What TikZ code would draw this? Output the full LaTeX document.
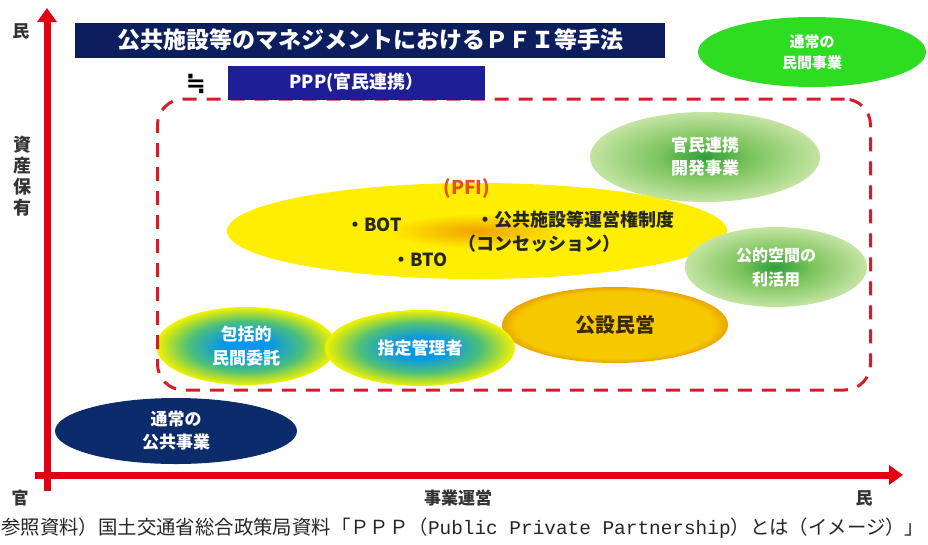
\documentclass[tikz,border=0pt]{standalone}
\usepackage{fontspec}
\setmainfont{Noto Sans CJK JP}
\newfontfamily\monof{Liberation Mono}
\newfontfamily\symf{DejaVu Sans}
\usetikzlibrary{arrows.meta,shapes.geometric}
\definecolor{axisred}{HTML}{E00012}
\definecolor{dashred}{HTML}{D21E2C}
\definecolor{titlenavy}{HTML}{0C1E5E}
\definecolor{pppblue}{HTML}{1E1E96}
\definecolor{labgray}{HTML}{333333}
\definecolor{topgreen}{HTML}{2EDC22}
\definecolor{lgc}{HTML}{2F9E3A}
\definecolor{lgm}{HTML}{7CC45E}
\definecolor{lge}{HTML}{C4E4A2}
\definecolor{pfiorange}{HTML}{F0A000}
\definecolor{pfiyellow}{HTML}{FFEE00}
\definecolor{pfitext}{HTML}{E4501A}
\definecolor{kocenter}{HTML}{F6C800}
\definecolor{koedge}{HTML}{E8A400}
\definecolor{kotext}{HTML}{3A2A00}
\definecolor{bluec}{HTML}{0A98E4}
\definecolor{bluem}{HTML}{4CBF7A}
\definecolor{bluee}{HTML}{F2F200}
\definecolor{navyell}{HTML}{0C2B6B}
\pgfdeclareradialshading{pfishade}{\pgfpoint{0bp}{0bp}}{color(0bp)=(pfiorange); color(9bp)=(pfiyellow); color(25bp)=(pfiyellow); color(50bp)=(pfiyellow)}
\pgfdeclareradialshading{lgshade}{\pgfpoint{0bp}{0bp}}{color(0bp)=(lgc); color(10bp)=(lgm); color(25bp)=(lge); color(50bp)=(lge)}
\pgfdeclareradialshading{koshade}{\pgfpoint{0bp}{0bp}}{color(0bp)=(kocenter); color(22bp)=(kocenter); color(25bp)=(koedge); color(50bp)=(koedge)}
\pgfdeclareradialshading{blueshade}{\pgfpoint{0bp}{0bp}}{color(0bp)=(bluec); color(7bp)=(bluec); color(16bp)=(bluem); color(25bp)=(bluee); color(50bp)=(bluee)}
\tikzset{
  axisline/.style={draw=axisred, line width=7pt, -{Triangle[length=14pt,width=19pt]}},
  axislab/.style={text=labgray, font=\fontsize{17}{20}\selectfont\bfseries, inner sep=0pt},
  ellbox/.style={ellipse, inner sep=0pt, align=center},
  wtext/.style={text=white, font=\fontsize{16}{23}\selectfont\bfseries, align=center, inner sep=0pt},
  frame/.style={draw=dashred, line width=3pt, dash pattern=on 14pt off 10pt, rounded corners=26pt},
  bartitle/.style={fill=titlenavy, text=white, inner sep=0pt, font=\fontsize{23}{25}\selectfont\bfseries},
  pppbox/.style={fill=pppblue, text=white, inner sep=0pt, font=\fontsize{18}{20}\selectfont\bfseries},
  pfitxt/.style={text=black!85, font=\fontsize{18}{20}\selectfont\bfseries, inner sep=0pt, anchor=west}
}
\begin{document}
\begin{tikzpicture}[x=1pt,y=-1pt]
\useasboundingbox (0,0) rectangle (928,544);
\fill[white] (0,0) rectangle (928,544);
% ellipses
\node[ellbox, fill=topgreen, minimum width=228pt, minimum height=70pt] (minkan) at (812,52) {};
\node[wtext, font=\fontsize{15}{21}\selectfont\bfseries] (minkant) at (minkan.center) {通常の\\民間事業};
\node[ellbox, shade, shading=lgshade, minimum width=230pt, minimum height=90pt] (kaihatsu) at (705,157) {};
\node[wtext, font=\fontsize{17}{23}\selectfont\bfseries] (kaihatsut) at (kaihatsu.center) {官民連携\\開発事業};
\node[ellbox, shade, shading=pfishade, minimum width=500pt, minimum height=96pt] (pfi) at (477,231) {};
\node[ellbox, shade, shading=koshade, minimum width=226pt, minimum height=76pt] (kosetsu) at (615,325) {};
\node[text=kotext, font=\fontsize{20}{22}\selectfont\bfseries, inner sep=0pt] (kosetsut) at (kosetsu.center) {公設民営};
\node[ellbox, shade, shading=lgshade, minimum width=182pt, minimum height=80pt] (koteki) at (776,267) {};
\node[wtext, font=\fontsize{16}{24}\selectfont\bfseries] (kotekit) at (koteki.center) {公的空間の\\利活用};
\node[ellbox, shade, shading=blueshade, minimum width=180pt, minimum height=78pt] (hokatsu) at (246,346) {};
\node[wtext, font=\fontsize{17}{24}\selectfont\bfseries] (hokatsut) at (hokatsu.center) {包括的\\民間委託};
\node[ellbox, shade, shading=blueshade, minimum width=190pt, minimum height=76pt] (shitei) at (420,348) {};
\node[wtext, font=\fontsize{17}{20}\selectfont\bfseries] (shiteit) at (shitei.center) {指定管理者};
\node[ellbox, fill=navyell, minimum width=242pt, minimum height=66pt] (kokyo) at (176,431) {};
\node[wtext, font=\fontsize{17}{23}\selectfont\bfseries] (kokyot) at (kokyo.center) {通常の\\公共事業};
% PFI texts
\node[text=pfitext, font=\fontsize{19}{20}\selectfont\bfseries, inner sep=0pt] (pfit) at (467,188) {(PFI)};
\node[pfitxt] (bot) at (346,225) {・BOT};
\node[pfitxt] (bto) at (392,260) {・BTO};
\node[pfitxt] (kenri) at (476,220) {・公共施設等運営権制度};
\node[pfitxt] (conc) at (458,244) {（コンセッション）};
% dashed frame
\node[frame, minimum width=713pt, minimum height=291pt, inner sep=0pt] (fr) at (514,244.5) {};
% title bars
\node[bartitle, minimum width=590pt, minimum height=35pt] (title) at (370,40) {公共施設等のマネジメントにおけるＰＦＩ等手法};
\node[pppbox, minimum width=257pt, minimum height=34pt] (ppp) at (356.5,83) {PPP(官民連携）};
\node[text=black, font=\symf\fontsize{24}{24}\selectfont\bfseries, inner sep=0pt] (approx) at (196,84) {≒};
% axes
\coordinate (ybot) at (47,491);
\coordinate (ytop) at (47,8);
\coordinate (xleft) at (35,475);
\coordinate (xright) at (903,475);
\draw[axisline] (ybot) -- (ytop);
\draw[axisline] (xleft) -- (xright);
% axis labels
\node[axislab] (min1) at (21,31) {民};
\node[axislab, align=center, font=\fontsize{18}{21}\selectfont\bfseries] (shisan) at (22,176) {資\\産\\保\\有};
\node[axislab] (kan) at (20,498) {官};
\node[axislab] (jigyo) at (458,498) {事業運営};
\node[axislab] (min2) at (864,498) {民};
% caption
\node[anchor=west, inner sep=0pt, text=black!85, font=\fontsize{19.4}{21}\selectfont] (cap) at (1,528) {参照資料）国土交通省総合政策局資料「ＰＰＰ（{\monof Public Private Partnership}）とは（イメージ）」};
\end{tikzpicture}
\end{document}
